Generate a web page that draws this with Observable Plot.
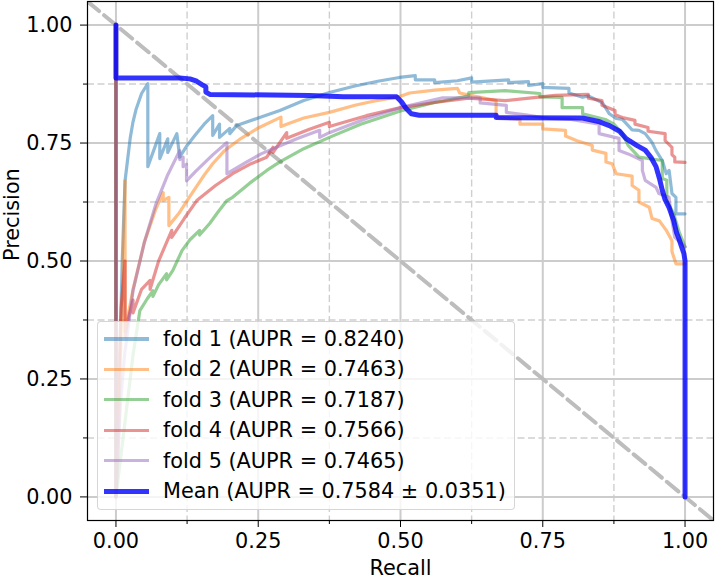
<!DOCTYPE html>
<html>
<head>
<meta charset="utf-8">
<script src="https://cdn.jsdelivr.net/npm/d3@7"></script>
<script src="https://cdn.jsdelivr.net/npm/@observablehq/plot@0.6"></script>
<style>
  html, body { margin: 0; padding: 0; background: #fff; }
  #wrap { position: relative; width: 716px; height: 580px; font-family: "DejaVu Sans", sans-serif; }
  #legend { position: absolute; left: 97px; top: 321px; width: 416px; height: 187px;
    background: rgba(255,255,255,0.8); border: 1px solid rgba(204,204,204,0.8); border-radius: 4px; }
  .row { position: absolute; left: 0; height: 30px; font-size: 20.8px; color: #000; white-space: nowrap; }
  .sw { position: absolute; left: 6px; width: 45px; }
  .lab { position: absolute; left: 65px; line-height: 30px; }
</style>
</head>
<body>
<div id="wrap"></div>
<script>
// ---------- data ----------
const seriesNames = ["fold 1", "fold 2", "fold 3", "fold 4", "fold 5", "Mean"];
const seriesLabels = [
  "fold 1 (AUPR = 0.8240)",
  "fold 2 (AUPR = 0.7463)",
  "fold 3 (AUPR = 0.7187)",
  "fold 4 (AUPR = 0.7566)",
  "fold 5 (AUPR = 0.7465)",
  "Mean (AUPR = 0.7584 ± 0.0351)"
];
const seriesColors = ["#1f77b4", "#ff7f0e", "#2ca02c", "#d62728", "#9467bd", "#0000ff"];

const recall1 = [0,0,0.005,0.008,0.011,0.016,0.021,0.025,0.03,0.035,0.045,0.056,0.056,0.077,0.077,0.091,0.091,0.107,0.112,0.125,0.14,0.155,0.17,0.17,0.182,0.182,0.2,0.2,0.212,0.25,0.288,0.33,0.375,0.42,0.46,0.498,0.526,0.526,0.56,0.56,0.6,0.625,0.625,0.69,0.69,0.725,0.725,0.75,0.75,0.796,0.796,0.82,0.83,0.855,0.867,0.879,0.89,0.907,0.919,0.93,0.942,0.949,0.96,0.967,0.972,0.977,0.984,0.984,1.0];
const precision1 = [1,0,0.15,0.35,0.5,0.67,0.72,0.76,0.795,0.82,0.855,0.876,0.70,0.77,0.717,0.759,0.73,0.77,0.72,0.745,0.768,0.79,0.808,0.766,0.79,0.762,0.781,0.77,0.787,0.803,0.819,0.84,0.857,0.871,0.881,0.889,0.893,0.884,0.884,0.878,0.882,0.888,0.879,0.884,0.878,0.88,0.872,0.876,0.868,0.866,0.856,0.847,0.85,0.835,0.812,0.802,0.8,0.778,0.777,0.77,0.751,0.734,0.713,0.685,0.692,0.643,0.635,0.60,0.60];

const recall2 = [0,0,0.004,0.008,0.012,0.016,0.016,0.03,0.05,0.07,0.083,0.083,0.093,0.093,0.11,0.125,0.14,0.155,0.17,0.19,0.22,0.25,0.29,0.29,0.3,0.33,0.375,0.42,0.45,0.5,0.516,0.56,0.6,0.604,0.668,0.668,0.71,0.71,0.75,0.75,0.79,0.79,0.81,0.837,0.837,0.861,0.861,0.872,0.879,0.907,0.907,0.919,0.919,0.937,0.942,0.955,0.967,0.977,0.977,0.984,1.0];
const precision2 = [1,0,0.1,0.3,0.45,0.67,0.35,0.44,0.54,0.61,0.645,0.628,0.635,0.575,0.6,0.628,0.655,0.682,0.706,0.733,0.76,0.782,0.805,0.785,0.79,0.803,0.815,0.83,0.838,0.849,0.856,0.862,0.866,0.856,0.84,0.805,0.80,0.79,0.79,0.78,0.777,0.765,0.755,0.745,0.735,0.728,0.71,0.706,0.685,0.68,0.66,0.65,0.625,0.614,0.59,0.585,0.565,0.543,0.52,0.494,0.494];

const recall3 = [0,0,0.01,0.02,0.03,0.042,0.055,0.065,0.065,0.075,0.089,0.089,0.1,0.116,0.13,0.147,0.147,0.165,0.18,0.195,0.205,0.235,0.265,0.288,0.33,0.375,0.43,0.5,0.56,0.62,0.62,0.684,0.745,0.745,0.784,0.784,0.82,0.82,0.86,0.875,0.89,0.9,0.919,0.96,0.96,0.968,0.968,0.98,0.99,1.0];
const precision3 = [1,0,0.1,0.2,0.3,0.395,0.42,0.437,0.425,0.45,0.473,0.46,0.48,0.522,0.545,0.565,0.555,0.58,0.605,0.628,0.635,0.665,0.692,0.71,0.738,0.762,0.79,0.818,0.836,0.85,0.857,0.861,0.855,0.848,0.847,0.825,0.825,0.812,0.80,0.79,0.77,0.745,0.72,0.713,0.675,0.671,0.628,0.60,0.56,0.53];

const recall4 = [0,0,0.005,0.009,0.016,0.016,0.022,0.03,0.03,0.045,0.06,0.06,0.075,0.098,0.098,0.12,0.142,0.175,0.205,0.235,0.265,0.276,0.276,0.30,0.30,0.34,0.375,0.375,0.44,0.5,0.56,0.62,0.684,0.772,0.83,0.83,0.854,0.854,0.877,0.877,0.89,0.912,0.912,0.935,0.935,0.965,0.965,0.977,0.977,0.982,0.982,1.0];
const precision4 = [1,0,0.25,0.4,0.5,0.34,0.38,0.417,0.39,0.44,0.459,0.44,0.5,0.565,0.55,0.59,0.628,0.66,0.685,0.705,0.72,0.741,0.73,0.772,0.76,0.779,0.794,0.785,0.808,0.825,0.836,0.845,0.84,0.851,0.853,0.845,0.84,0.83,0.819,0.81,0.804,0.798,0.79,0.783,0.775,0.77,0.755,0.741,0.725,0.72,0.71,0.709];

const recall5 = [0,0,0.008,0.015,0.03,0.05,0.07,0.09,0.112,0.112,0.118,0.118,0.124,0.124,0.14,0.17,0.195,0.195,0.23,0.255,0.282,0.32,0.358,0.358,0.375,0.44,0.5,0.574,0.64,0.64,0.686,0.686,0.72,0.76,0.8,0.849,0.849,0.884,0.884,0.9,0.925,0.925,0.93,0.949,0.954,0.972,0.975,0.982,1.0];
const precision5 = [1,0,0.2,0.3,0.437,0.54,0.62,0.68,0.734,0.715,0.72,0.70,0.705,0.67,0.69,0.725,0.751,0.685,0.71,0.727,0.741,0.76,0.777,0.762,0.772,0.802,0.825,0.846,0.846,0.835,0.83,0.815,0.81,0.802,0.80,0.79,0.77,0.76,0.734,0.727,0.713,0.692,0.671,0.656,0.643,0.635,0.6,0.55,0.53];

const recallMean = [0,0,0.112,0.13,0.142,0.151,0.158,0.158,0.165,0.34,0.40,0.493,0.502,0.51,0.519,0.533,0.668,0.668,0.82,0.85,0.867,0.885,0.896,0.902,0.915,0.93,0.94,0.949,0.955,0.96,0.965,0.972,0.98,0.985,0.989,0.994,0.998,1.0,1.0];
const precisionMean = [1,0.888,0.888,0.886,0.881,0.874,0.869,0.858,0.853,0.851,0.848,0.848,0.837,0.823,0.812,0.809,0.809,0.804,0.803,0.795,0.787,0.775,0.76,0.755,0.745,0.735,0.72,0.70,0.675,0.65,0.63,0.613,0.586,0.56,0.548,0.53,0.516,0.50,0.0];

const diagX = [-0.05, 1.05];
const diagY = [1.05, -0.05];
const majorTicks = [0, 0.25, 0.5, 0.75, 1];
const minorTicks = [0.125, 0.375, 0.625, 0.875];

// ---------- build tables ----------
const recalls = [recall1, recall2, recall3, recall4, recall5];
const precisions = [precision1, precision2, precision3, precision4, precision5];
const folds = recalls.map((rs, k) => rs.map((r, i) => ({r, p: precisions[k][i], s: seriesNames[k]})));
const mean = recallMean.map((r, i) => ({r, p: precisionMean[i]}));
const diag = diagX.map((x, i) => ({r: x, p: diagY[i]}));

const fmt = d3.format(".2f");
const font = "DejaVu Sans";
const fs = 20.8;

const chart = Plot.plot({
  width: 716,
  height: 580,
  marginLeft: 87,
  marginRight: 3,
  marginTop: 1,
  marginBottom: 60,
  style: {fontFamily: font, fontSize: fs + "px", color: "#000", background: "#fff"},
  x: {domain: [-0.05, 1.05]},
  y: {domain: [-0.05, 1.05]},
  marks: [
    Plot.ruleX(minorTicks, {stroke: "#cfcfcf", strokeWidth: 1.4, strokeDasharray: "7,3.5"}),
    Plot.ruleY(minorTicks, {stroke: "#cfcfcf", strokeWidth: 1.4, strokeDasharray: "7,3.5"}),
    Plot.ruleX(majorTicks, {stroke: "#cccccc", strokeWidth: 2}),
    Plot.ruleY(majorTicks, {stroke: "#cccccc", strokeWidth: 2}),
    Plot.line(diag, {x: "r", y: "p", stroke: "#bdbdbd", strokeWidth: 4, strokeDasharray: "15,6.5", clip: true}),
    ...folds.map((f, k) => Plot.line(f, {x: "r", y: "p", stroke: seriesColors[k], strokeOpacity: 0.5, strokeWidth: 3.2, strokeLinejoin: "round", clip: true})),
    Plot.line(mean, {x: "r", y: "p", stroke: seriesColors[5], strokeOpacity: 0.8, strokeWidth: 5, strokeLinejoin: "round", clip: true}),
    Plot.frame({stroke: "#000", strokeWidth: 1.2}),
    Plot.axisX(majorTicks, {tickFormat: fmt, tickSize: 7, tickPadding: 6, fontSize: fs, label: null}),
    Plot.axisX(minorTicks, {tickFormat: () => "", tickSize: 4, label: null}),
    Plot.axisY(majorTicks, {tickFormat: fmt, tickSize: 7, tickPadding: 8, fontSize: fs, label: null}),
    Plot.axisY(minorTicks, {tickFormat: () => "", tickSize: 4, label: null}),
    Plot.text(["Recall"], {frameAnchor: "bottom", dy: 54, text: d => d, fontSize: fs, fill: "#000"}),
    Plot.text(["Precision"], {frameAnchor: "left", dx: -75, rotate: -90, text: d => d, fontSize: fs, fill: "#000"})
  ]
});

const wrap = document.getElementById("wrap");
wrap.appendChild(chart);

// legend
const legend = document.createElement("div");
legend.id = "legend";
seriesLabels.forEach((lab, k) => {
  const row = document.createElement("div");
  row.className = "row";
  row.style.top = (2 + k * 30.4) + "px";
  const sw = document.createElement("div");
  sw.className = "sw";
  const isMean = k === 5;
  sw.style.height = (isMean ? 5 : 3.3) + "px";
  sw.style.background = seriesColors[k];
  sw.style.opacity = isMean ? 0.8 : 0.5;
  sw.style.top = (15 - (isMean ? 2.5 : 1.65)) + "px";
  const t = document.createElement("div");
  t.className = "lab";
  t.textContent = lab;
  row.appendChild(sw);
  row.appendChild(t);
  legend.appendChild(row);
});
wrap.appendChild(legend);
</script>
</body>
</html>
